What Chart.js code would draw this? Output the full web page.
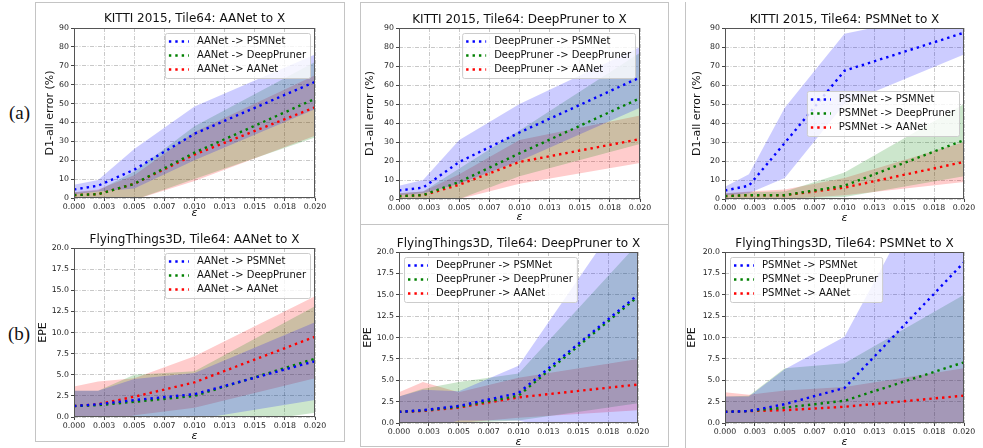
<!DOCTYPE html>
<html>
<head>
<meta charset="utf-8">
<script src="https://cdn.jsdelivr.net/npm/chart.js@4.4.1/dist/chart.umd.min.js"></script>
<style>
  body { margin: 0; background: #fff; width: 983px; height: 448px; overflow: hidden; position: relative; }
  .box { position: absolute; border: 1px solid #c4c4c4; box-sizing: border-box; }
  .tag { position: absolute; font-family: "Liberation Serif", serif; font-size: 19px; color: #111; line-height: 22px; }
  canvas { position: absolute; }
</style>
</head>
<body>
<div class="box" style="left:35px;top:2px;width:310px;height:440px"></div>
<div class="box" style="left:360px;top:2px;width:309px;height:223px"></div>
<div class="box" style="left:360px;top:224px;width:309px;height:223px"></div>
<div class="box" style="left:685px;top:2px;width:320px;height:460px;border-top:none"></div>
<div class="tag" style="left:9px;top:102px">(a)</div>
<div class="tag" style="left:8px;top:323px">(b)</div>

<script>
const FONT = '"DejaVu Sans", sans-serif';

// epsilon values where each curve was measured
const eps = [0, 0.002, 0.005, 0.01, 0.02];

const xTickVals = [0, 0.0025, 0.005, 0.0075, 0.01, 0.0125, 0.015, 0.0175, 0.02];
const xTickLabels = ['0.000', '0.003', '0.005', '0.007', '0.010', '0.013', '0.015', '0.018', '0.020'];
const kittiYTicks = [0, 10, 20, 30, 40, 50, 60, 70, 80, 90];
const kittiYLabels = ['0', '10', '20', '30', '40', '50', '60', '70', '80', '90'];
const epeYTicks = [0, 2.5, 5, 7.5, 10, 12.5, 15, 17.5, 20];
const epeYLabels = ['0.0', '2.5', '5.0', '7.5', '10.0', '12.5', '15.0', '17.5', '20.0'];

const targets = ['PSMNet', 'DeepPruner', 'AANet'];

// KITTI 2015, AANet to X  (mean, low, high)
const k1Psm = [4.5, 6.5, 15, 34, 61.5];
const k1PsmLo = [2, 3.5, 5, 20, 47];
const k1PsmHi = [7, 9.5, 26, 48.5, 76];
const k1Dp = [1.5, 2, 7.5, 24, 52.5];
const k1DpLo = [0, 0, -1, 10, 32];
const k1DpHi = [3, 4, 14, 38, 72];
const k1Aa = [1.5, 2, 7.5, 23, 48];
const k1AaLo = [0, 0, -1, 9, 33];
const k1AaHi = [3, 4.5, 12, 35, 65];

// KITTI 2015, DeepPruner to X
const k2Psm = [4.5, 6, 19.5, 35, 64];
const k2PsmLo = [2, 3, 8, 20, 48];
const k2PsmHi = [7, 10, 31, 50, 80];
const k2Dp = [1.5, 2, 9, 24, 53];
const k2DpLo = [0, 0, 0, 12, 29];
const k2DpHi = [3, 4, 16, 36, 77];
const k2Aa = [1.5, 2, 7.5, 19.5, 31.5];
const k2AaLo = [0, 0, 0, 8, 19];
const k2AaHi = [3, 4, 13, 31, 44];

// KITTI 2015, PSMNet to X
const k3Psm = [4.5, 7, 29.5, 67.5, 87.5];
const k3PsmLo = [2, 3, 11, 50, 76];
const k3PsmHi = [6.5, 13, 48, 87, 100];
const k3Dp = [1.5, 2, 2, 7, 31];
const k3DpLo = [0, 0, 0, 1, 12];
const k3DpHi = [3, 3.5, 4, 14, 50];
const k3Aa = [1.5, 2, 2, 6, 19.5];
const k3AaLo = [0, 0, 0, 2, 9];
const k3AaHi = [3, 4, 5, 11, 30];

// FlyingThings3D, AANet to X
const f1Psm = [1.3, 1.5, 2.0, 2.7, 6.6];
const f1PsmLo = [-0.5, -0.2, -0.5, -0.3, 2.0];
const f1PsmHi = [3.1, 3.1, 4.5, 5.2, 11.2];
const f1Dp = [1.3, 1.4, 1.8, 2.5, 6.9];
const f1DpLo = [-0.5, -0.3, -1.4, -1.5, 0.5];
const f1DpHi = [3.1, 3.1, 5.0, 5.4, 13.1];
const f1Aa = [1.3, 1.5, 2.4, 4.1, 9.5];
const f1AaLo = [-1, -1, 0.2, 1.1, 4.6];
const f1AaHi = [3.6, 4.2, 4.6, 7.2, 14.3];

// FlyingThings3D, DeepPruner to X
const f2Psm = [1.3, 1.5, 2.0, 3.5, 15.0];
const f2PsmLo = [-0.5, -0.9, 0.3, 0.3, -3];
const f2PsmHi = [3.1, 3.9, 3.7, 6.7, 27];
const f2Dp = [1.3, 1.45, 1.9, 3.2, 14.8];
const f2DpLo = [-0.5, -1, 0, 0.3, 2.3];
const f2DpHi = [3.1, 4.0, 4.8, 5.8, 21];
const f2Aa = [1.3, 1.4, 1.8, 3.0, 4.5];
const f2AaLo = [-1, -2, 0, 0.6, 1.5];
const f2AaHi = [3.6, 4.8, 3.6, 5.3, 7.5];

// FlyingThings3D, PSMNet to X
const f3Psm = [1.3, 1.4, 2.2, 4.1, 18.8];
const f3PsmLo = [-0.5, -0.3, -1.9, -1.9, -2];
const f3PsmHi = [3.1, 3.1, 6.3, 10.1, 36];
const f3Dp = [1.3, 1.4, 1.8, 2.6, 7.1];
const f3DpLo = [-0.5, -0.4, -2.8, -1.8, -0.8];
const f3DpHi = [3.1, 3.2, 6.4, 7.0, 15.0];
const f3Aa = [1.3, 1.4, 1.5, 1.9, 3.2];
const f3AaLo = [-1, -0.5, -0.8, -0.4, 0];
const f3AaHi = [3.6, 3.3, 3.8, 4.2, 6.4];

const LINE_COLORS = ['#0000ff', '#008000', '#ff0000'];
const BAND_COLORS = ['rgba(0,0,255,0.2)', 'rgba(0,128,0,0.2)', 'rgba(255,0,0,0.2)'];
const DOT = [2.4, 4];

// plot-box geometry in page pixels: l/t/r/b of the axes, y-label x, x-label y, title y
const panels = [
  { title: 'KITTI 2015, Tile64: AANet to X', src: 'AANet', ylabel: 'D1-all error (%)',
    yTicks: kittiYTicks, yLabels: kittiYLabels, ymax: 90, legend: 'upper right',
    series: [[k1Psm, k1PsmLo, k1PsmHi], [k1Dp, k1DpLo, k1DpHi], [k1Aa, k1AaLo, k1AaHi]],
    g: { l: 74, t: 28, r: 315, b: 198, yl: 50, xl: 213, tt: 19 } },
  { title: 'KITTI 2015, Tile64: DeepPruner to X', src: 'DeepPruner', ylabel: 'D1-all error (%)',
    yTicks: kittiYTicks, yLabels: kittiYLabels, ymax: 90, legend: 'upper right',
    series: [[k2Psm, k2PsmLo, k2PsmHi], [k2Dp, k2DpLo, k2DpHi], [k2Aa, k2AaLo, k2AaHi]],
    g: { l: 399, t: 28, r: 640, b: 199, yl: 370, xl: 217, tt: 20 } },
  { title: 'KITTI 2015, Tile64: PSMNet to X', src: 'PSMNet', ylabel: 'D1-all error (%)',
    yTicks: kittiYTicks, yLabels: kittiYLabels, ymax: 90, legend: 'center right',
    series: [[k3Psm, k3PsmLo, k3PsmHi], [k3Dp, k3DpLo, k3DpHi], [k3Aa, k3AaLo, k3AaHi]],
    g: { l: 725, t: 28, r: 964, b: 199, yl: 697, xl: 218, tt: 20 } },
  { title: 'FlyingThings3D, Tile64: AANet to X', src: 'AANet', ylabel: 'EPE',
    yTicks: epeYTicks, yLabels: epeYLabels, ymax: 20, legend: 'upper right',
    series: [[f1Psm, f1PsmLo, f1PsmHi], [f1Dp, f1DpLo, f1DpHi], [f1Aa, f1AaLo, f1AaHi]],
    g: { l: 74, t: 248, r: 315, b: 417, yl: 43, xl: 436, tt: 240 } },
  { title: 'FlyingThings3D, Tile64: DeepPruner to X', src: 'DeepPruner', ylabel: 'EPE',
    yTicks: epeYTicks, yLabels: epeYLabels, ymax: 20, legend: 'upper left',
    series: [[f2Psm, f2PsmLo, f2PsmHi], [f2Dp, f2DpLo, f2DpHi], [f2Aa, f2AaLo, f2AaHi]],
    g: { l: 399, t: 252, r: 638, b: 423, yl: 368, xl: 442, tt: 244 } },
  { title: 'FlyingThings3D, Tile64: PSMNet to X', src: 'PSMNet', ylabel: 'EPE',
    yTicks: epeYTicks, yLabels: epeYLabels, ymax: 20, legend: 'upper left',
    series: [[f3Psm, f3PsmLo, f3PsmHi], [f3Dp, f3DpLo, f3DpHi], [f3Aa, f3AaLo, f3AaHi]],
    g: { l: 725, t: 252, r: 964, b: 423, yl: 692, xl: 442, tt: 244 } }
];

// axes frame, title centred on the axes, matplotlib-like legend box
const mplPlugin = {
  id: 'mpl',
  afterDatasetsDraw(chart, args, opts) {
    const ctx = chart.ctx, a = chart.chartArea;
    ctx.save();
    ctx.strokeStyle = '#555';
    ctx.lineWidth = 1;
    ctx.strokeRect(a.left + 0.5, a.top + 0.5, a.right - a.left - 1, a.bottom - a.top - 1);

    ctx.font = `12px ${FONT}`;
    ctx.fillStyle = '#111';
    ctx.textAlign = 'center';
    ctx.textBaseline = 'middle';
    ctx.fillText(opts.title, (a.left + a.right) / 2, opts.titleY);
    ctx.textAlign = 'left';

    const items = chart.data.datasets.filter(d => d.isLine);
    const fs = 10;
    ctx.font = `${fs}px ${FONT}`;
    const tw = Math.max(...items.map(d => ctx.measureText(d.label).width));
    const bw = 4 + 20 + 8 + tw + 4;
    const bh = 8 + 9 * items.length + 5 * (items.length - 1);
    const bx = opts.loc.endsWith('left') ? a.left + 5 : a.right - 5 - bw;
    const by = opts.loc.startsWith('center') ? (a.top + a.bottom) / 2 - bh / 2 : a.top + 5;
    ctx.beginPath();
    ctx.roundRect(bx + 0.5, by + 0.5, bw, bh, 2);
    ctx.fillStyle = 'rgba(255,255,255,0.8)';
    ctx.fill();
    ctx.strokeStyle = '#cccccc';
    ctx.stroke();
    items.forEach((d, i) => {
      const cy = by + 8.5 + 14 * i;
      ctx.beginPath();
      ctx.setLineDash(d.borderDash);
      ctx.lineWidth = d.borderWidth;
      ctx.strokeStyle = d.borderColor;
      ctx.moveTo(bx + 4, cy);
      ctx.lineTo(bx + 24, cy);
      ctx.stroke();
      ctx.setLineDash([]);
      ctx.fillStyle = '#111';
      ctx.fillText(d.label, bx + 32, cy);
    });
    ctx.restore();
  }
};

function makeChart(p) {
  const g = p.g;
  const YW = 45, RP = 16;
  const left = g.l - YW, top = g.tt - 10;
  const width = g.r + RP - left, height = g.xl + 8 - top;
  const xH = g.xl + 8 - g.b;

  const cv = document.createElement('canvas');
  cv.width = width;
  cv.height = height;
  cv.style.left = left + 'px';
  cv.style.top = top + 'px';
  cv.style.width = width + 'px';
  cv.style.height = height + 'px';
  document.body.appendChild(cv);

  const pts = arr => eps.map((x, i) => ({ x, y: arr[i] }));
  const datasets = [];
  p.series.forEach((s, i) => datasets.push({
    label: `${p.src} -> ${targets[i]}`, data: pts(s[0]), isLine: true,
    borderColor: LINE_COLORS[i], borderWidth: 2.4, borderDash: DOT, borderCapStyle: 'butt',
    pointRadius: 0, fill: false, tension: 0
  }));
  p.series.forEach((s, i) => {
    datasets.push({ label: 'hi', data: pts(s[2]), borderColor: 'rgba(0,0,0,0)', pointRadius: 0,
      backgroundColor: BAND_COLORS[i], fill: '+1', tension: 0 });
    datasets.push({ label: 'lo', data: pts(s[1]), borderColor: 'rgba(0,0,0,0)', pointRadius: 0,
      fill: false, tension: 0 });
  });

  const gridOpts = { color: 'rgba(140,140,140,0.6)', lineWidth: 0.8, tickLength: 3, tickColor: '#444', tickWidth: 1 };
  const borderOpts = { display: false, dash: [4, 1.5, 1, 1.5] };

  new Chart(cv, {
    type: 'line',
    data: { datasets },
    options: {
      responsive: false,
      animation: false,
      events: [],
      layout: { padding: { left: 0, top: g.t - top, right: RP, bottom: 0 } },
      plugins: {
        legend: { display: false },
        tooltip: { enabled: false },
        title: { display: false },
        mpl: { loc: p.legend, title: p.title, titleY: g.tt - top }
      },
      scales: {
        x: {
          type: 'linear', min: 0, max: 0.02,
          afterBuildTicks: sc => { sc.ticks = xTickVals.map(v => ({ value: v })); },
          afterFit: sc => { sc.height = xH; },
          ticks: { callback: (v, i) => xTickLabels[i], font: { family: FONT, size: 7.8 }, color: '#222',
            padding: 1, maxRotation: 0, autoSkip: false },
          grid: gridOpts,
          border: borderOpts,
          title: { display: true, text: 'ε', color: '#111',
            font: { family: FONT, size: 11, style: 'italic' }, padding: { top: 0, bottom: 8 - 6.6 } }
        },
        y: {
          min: 0, max: p.ymax,
          afterBuildTicks: sc => { sc.ticks = p.yTicks.map(v => ({ value: v })); },
          afterFit: sc => { sc.width = YW; },
          ticks: { callback: (v, i) => p.yLabels[i], font: { family: FONT, size: 7.8 }, color: '#222', padding: 2 },
          grid: gridOpts,
          border: borderOpts,
          title: { display: true, text: p.ylabel, color: '#111',
            font: { family: FONT, size: 11 }, padding: { top: YW - (g.l - g.yl) - 6.6, bottom: 0 } }
        }
      }
    },
    plugins: [mplPlugin]
  });
}

panels.forEach(makeChart);
</script>
</body>
</html>
